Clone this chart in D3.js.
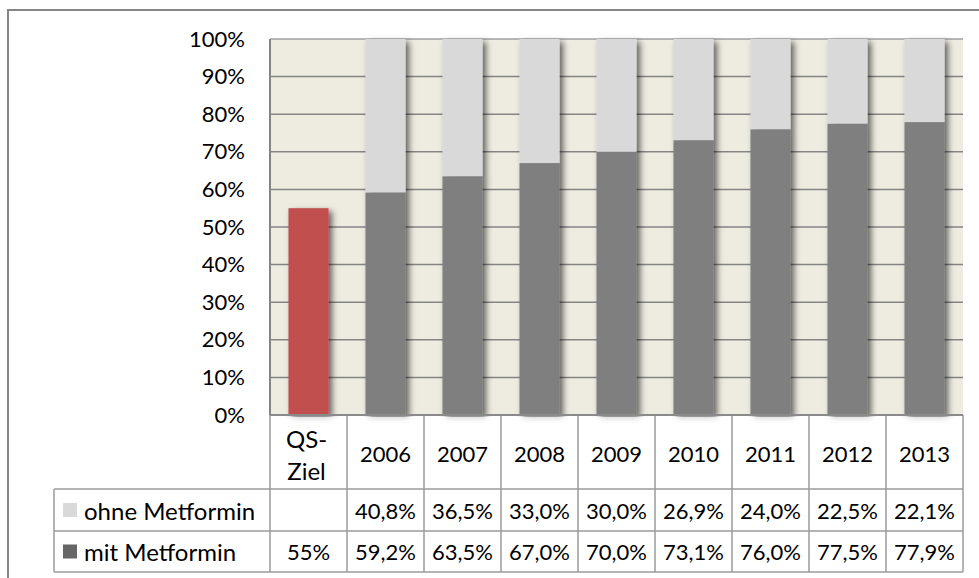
<!DOCTYPE html>
<html><head><meta charset="utf-8">
<script src="https://cdn.jsdelivr.net/npm/d3@7/dist/d3.min.js"></script>
<style>html,body{margin:0;padding:0;background:#fff;}svg{display:block;font-family:Lato,"Open Sans",sans-serif;}</style>
</head><body>
<script>
const categories = ["QS-Ziel","2006","2007","2008","2009","2010","2011","2012","2013"];
const mitMetformin = [55, 59.2, 63.5, 67.0, 70.0, 73.1, 76.0, 77.5, 77.9];
const ohneMetformin = [null, 40.8, 36.5, 33.0, 30.0, 26.9, 24.0, 22.5, 22.1];
const mitLabels = ["55%","59,2%","63,5%","67,0%","70,0%","73,1%","76,0%","77,5%","77,9%"];
const ohneLabels = ["","40,8%","36,5%","33,0%","30,0%","26,9%","24,0%","22,5%","22,1%"];
const yTicks = [0,0.1,0.2,0.3,0.4,0.5,0.6,0.7,0.8,0.9,1.0];

(function(){
const W = 979, H = 578;
const svg = d3.select("body").append("svg").attr("width", W).attr("height", H);
const defs = svg.append("defs");
const f = defs.append("filter").attr("id","sh").attr("x","-30%").attr("y","-10%").attr("width","160%").attr("height","130%");
f.append("feDropShadow").attr("dx",3.5).attr("dy",3).attr("stdDeviation",3).attr("flood-color","#000").attr("flood-opacity",0.6);

// outer frame
svg.append("path").attr("d","M8,578 L8,10 L979,10").attr("fill","none").attr("stroke","#868686").attr("stroke-width",2);

const pLeft = 270, pRight = 963, pTop = 39, pBottom = 415;
const x = d3.scaleBand().domain(categories).range([pLeft, pRight]).paddingInner(0.48).paddingOuter(0.24);
const y = d3.scaleLinear().domain([0,1]).range([pBottom, pTop]);
const step = x.step(), bw = x.bandwidth();

// plot background
svg.append("rect").attr("x",pLeft).attr("y",pTop).attr("width",pRight-pLeft).attr("height",pBottom-pTop).attr("fill","#EEECE1");

// gridlines
svg.append("g").selectAll("line").data(yTicks.filter(d=>d>0)).join("line")
  .attr("x1",pLeft).attr("x2",pRight).attr("y1",d=>y(d)).attr("y2",d=>y(d))
  .attr("stroke",d=>d===1?"#a0a0a0":"#858585").attr("stroke-width",1.5);

// y axis labels
const yAxis = d3.axisLeft(y).tickValues(yTicks).tickFormat(d=>Math.round(d*100)+"%").tickSize(0).tickPadding(25);
const ga = svg.append("g").attr("transform",`translate(${pLeft},0)`).call(yAxis);
ga.select(".domain").remove();
ga.selectAll("text").attr("font-size",22).attr("fill","#000").attr("font-family","Lato,'Open Sans',sans-serif");

// data table backgrounds (below bars so shadow shows slightly)
const rowHeader = 489, row1 = 531, row2 = 572, tLeft = 54;
svg.append("rect").attr("x",pLeft).attr("y",pBottom).attr("width",pRight-pLeft).attr("height",rowHeader-pBottom).attr("fill","#fff");
svg.append("rect").attr("x",tLeft).attr("y",rowHeader).attr("width",pRight-tLeft).attr("height",row2-rowHeader).attr("fill","#fff");

// bars
const data = categories.map((c,i)=>({c, mit: mitMetformin[i]/100, ohne: ohneMetformin[i]==null?0:ohneMetformin[i]/100, i}));
const bars = svg.append("g").attr("filter","url(#sh)");
bars.selectAll("rect.mit").data(data).join("rect").attr("class","mit")
  .attr("x",d=>x(d.c)).attr("width",bw)
  .attr("y",d=>y(d.mit)).attr("height",d=>y(0)-y(d.mit))
  .attr("fill",d=>d.i===0?"#C0504D":"#7F7F7F");
bars.selectAll("rect.ohne").data(data.filter(d=>d.ohne>0)).join("rect").attr("class","ohne")
  .attr("x",d=>x(d.c)).attr("width",bw)
  .attr("y",d=>y(d.mit+d.ohne)).attr("height",d=>y(d.mit)-y(d.mit+d.ohne))
  .attr("fill","#D9D9D9");

// cover shadow mostly below axis except faint
svg.append("rect").attr("x",pLeft).attr("y",pBottom+2).attr("width",pRight-pLeft).attr("height",rowHeader-pBottom-2).attr("fill","#fff").attr("fill-opacity",0.7);

// axis lines
svg.append("line").attr("x1",pLeft).attr("x2",pLeft).attr("y1",pTop).attr("y2",pBottom).attr("stroke","#858585").attr("stroke-width",2);

const tg = svg.append("g");
const lc = "#9b9b9b", lw = 1.5;
[[tLeft,rowHeader,pRight,rowHeader],[tLeft,row1,pRight,row1],[tLeft,row2,pRight,row2],[tLeft,rowHeader,tLeft,row2]]
  .forEach(l=>tg.append("line").attr("x1",l[0]).attr("y1",l[1]).attr("x2",l[2]).attr("y2",l[3]).attr("stroke",lc).attr("stroke-width",lw));
const bounds = categories.map(c=>x(c)+bw/2-step/2).concat([pRight]);
tg.selectAll("line.v").data(bounds).join("line").attr("class","v")
  .attr("x1",d=>d).attr("x2",d=>d).attr("y1",pBottom).attr("y2",row2).attr("stroke",lc).attr("stroke-width",lw);
tg.append("line").attr("x1",pLeft).attr("x2",pRight).attr("y1",pBottom).attr("y2",pBottom).attr("stroke","#8a8a8a").attr("stroke-width",2);

const fs = 22, fsText = 24;
categories.forEach(c=>{
  const cx = x(c)+bw/2;
  if (c === "QS-Ziel") {
    tg.append("text").attr("x",cx-2).attr("y",438).attr("text-anchor","middle").attr("dominant-baseline","central").attr("font-size",fsText).text("QS-");
    tg.append("text").attr("x",cx-2).attr("y",470).attr("text-anchor","middle").attr("dominant-baseline","central").attr("font-size",fsText).text("Ziel");
  } else {
    tg.append("text").attr("x",cx).attr("y",453).attr("text-anchor","middle").attr("dominant-baseline","central").attr("font-size",fs).text(c);
  }
});
const rows = [{name:"ohne Metformin", key:"#D9D9D9", labels: ohneLabels, yc:(rowHeader+row1)/2},
              {name:"mit Metformin", key:"#666666", labels: mitLabels, yc:(row1+row2)/2}];
rows.forEach(r=>{
  tg.append("rect").attr("x",63).attr("y",r.yc-7).attr("width",14).attr("height",14).attr("fill",r.key);
  tg.append("text").attr("x",84).attr("y",r.yc).attr("dominant-baseline","central").attr("font-size",fsText).text(r.name);
  categories.forEach((c,i)=>{
    tg.append("text").attr("x",x(c)+bw/2).attr("y",r.yc).attr("text-anchor","middle").attr("dominant-baseline","central").attr("font-size",fs).text(r.labels[i]);
  });
});
})();
</script>
</body></html>
